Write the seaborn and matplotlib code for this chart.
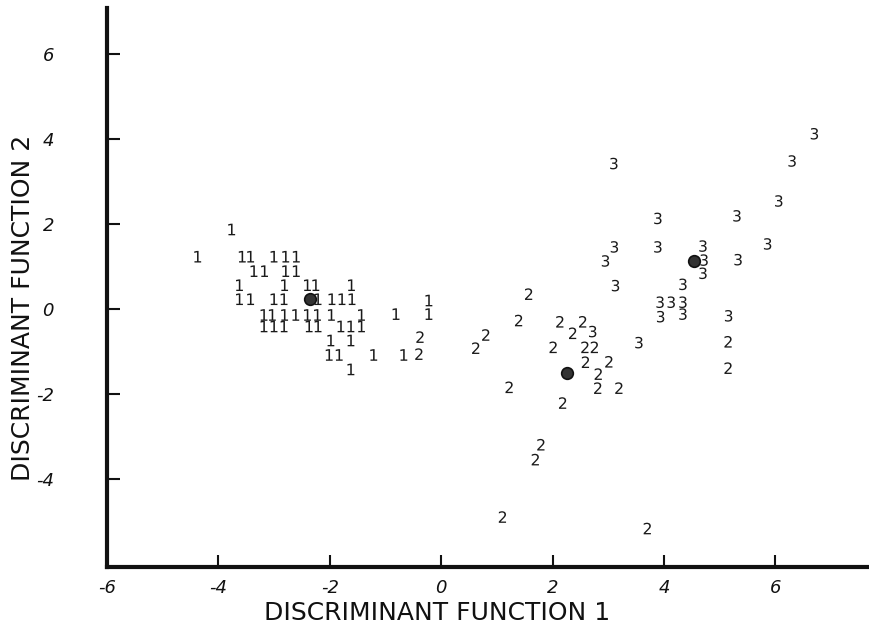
import numpy as np
import pandas as pd
import matplotlib
matplotlib.use("Agg")
import matplotlib.pyplot as plt
import seaborn as sns

# group 1 scores (discriminant function 1, 2)
g1_x = [-3.76, -4.37, -3.57, -3.42, -3.00, -2.79, -2.60,
        -3.36, -3.17, -2.79, -2.60,
        -3.62, -2.81, -2.40, -2.25, -1.61,
        -3.62, -3.42, -3.00, -2.82, -2.21, -1.96, -1.78, -1.60, -0.22,
        -3.18, -3.03, -2.81, -2.61, -2.40, -2.22, -1.97, -1.43, -0.81, -0.22,
        -3.18, -3.00, -2.82, -2.37, -2.21, -1.80, -1.62, -1.43,
        -1.98, -1.62,
        -2.01, -1.83, -1.21, -0.67,
        -1.62]
g1_y = [1.87, 1.23, 1.23, 1.23, 1.23, 1.23, 1.23,
        0.89, 0.89, 0.89, 0.89,
        0.56, 0.56, 0.56, 0.56, 0.56,
        0.23, 0.23, 0.23, 0.23, 0.23, 0.23, 0.23, 0.23, 0.20,
        -0.14, -0.14, -0.14, -0.14, -0.14, -0.14, -0.14, -0.14, -0.12, -0.12,
        -0.41, -0.41, -0.41, -0.41, -0.41, -0.41, -0.41, -0.41,
        -0.74, -0.74,
        -1.08, -1.08, -1.08, -1.08,
        -1.42]

# group 2
g2_x = [1.57, 1.39, 2.13, 2.54, 2.36, 0.80, 0.62, 2.01, 2.58, 2.75,
        2.59, 3.01, 2.82, 1.22, 2.81, 3.19, 2.18, 1.79, 1.69, 1.10,
        3.70, 5.15, 5.15, -0.38, -0.40]
g2_y = [0.35, -0.27, -0.30, -0.30, -0.57, -0.61, -0.92, -0.90, -0.90, -0.90,
        -1.25, -1.24, -1.53, -1.84, -1.86, -1.86, -2.21, -3.19, -3.54, -4.89,
        -5.16, -0.77, -1.39, -0.66, -1.06]

# group 3
g3_x = [6.70, 3.10, 6.30, 6.06, 3.89, 5.31, 3.11, 3.89, 4.70, 5.86,
        2.95, 4.72, 5.33, 4.70, 3.13, 4.34, 3.93, 4.13, 4.34, 3.94,
        4.34, 5.16, 3.55, 2.72]
g3_y = [4.12, 3.42, 3.48, 2.54, 2.13, 2.19, 1.46, 1.46, 1.48, 1.53,
        1.13, 1.15, 1.16, 0.84, 0.55, 0.58, 0.16, 0.16, 0.16, -0.18,
        -0.12, -0.16, -0.79, -0.53]

# group centroids
cen_x = [-2.36, 2.26, 4.54]
cen_y = [0.23, -1.51, 1.13]

xticks = [-6, -4, -2, 0, 2, 4, 6]
yticks = [-4, -2, 0, 2, 4, 6]

df = pd.DataFrame({
    "df1": g1_x + g2_x + g3_x,
    "df2": g1_y + g2_y + g3_y,
    "group": ["1"] * len(g1_x) + ["2"] * len(g2_x) + ["3"] * len(g3_x),
})
cen = pd.DataFrame({"df1": cen_x, "df2": cen_y})

sns.set_style("white")
plt.rcParams["font.family"] = ["DejaVu Sans"]

fig = plt.figure(figsize=(8.69, 6.39), dpi=100)
ax = fig.add_axes([0.123, 0.113, 0.877, 0.874])

sns.scatterplot(data=df, x="df1", y="df2", style="group",
                markers={"1": "$1$", "2": "$2$", "3": "$3$"},
                color="#1a1a1a", s=70, linewidth=0, legend=False, ax=ax)
sns.scatterplot(data=cen, x="df1", y="df2", color="#333333", s=70,
                edgecolor="#111111", linewidth=1.2, legend=False, ax=ax)

ax.set_xlim(-6, 7.68)
ax.set_ylim(-6.06, 7.07)
ax.set_xticks(xticks)
ax.set_yticks(yticks)
ax.set_xticklabels([str(t) for t in xticks], fontstyle="italic", fontsize=13)
ax.set_yticklabels([str(t) for t in yticks], fontstyle="italic", fontsize=13)
ax.tick_params(axis="x", bottom=True, direction="in", length=9, width=1.5,
               pad=9, color="#111111", labelcolor="#111111")
ax.tick_params(axis="y", left=True, direction="in", length=9, width=1.5,
               pad=38, color="#111111", labelcolor="#111111")

for side in ["top", "right"]:
    ax.spines[side].set_visible(False)
for side in ["left", "bottom"]:
    ax.spines[side].set_linewidth(3)
    ax.spines[side].set_color("#111111")

ax.set_xlabel("DISCRIMINANT FUNCTION 1", fontsize=18, color="#111111")
ax.set_ylabel("DISCRIMINANT FUNCTION 2", fontsize=18, color="#111111")
ax.xaxis.set_label_coords(0.433, -0.062)
ax.yaxis.set_label_coords(-0.094, 0.463)

fig.savefig("out.png", dpi=100)
